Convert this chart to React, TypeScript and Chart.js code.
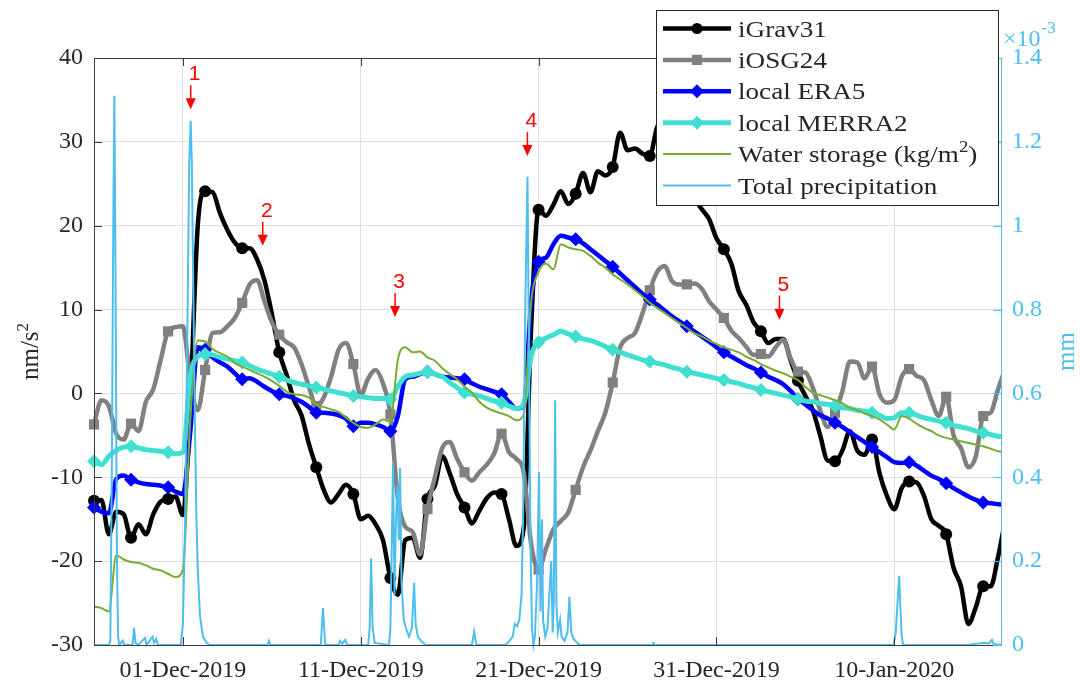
import React, { useEffect, useRef } from 'react';
import { Chart, registerables } from 'chart.js';

Chart.register(...registerables);

// ---------------- data ----------------
const STEP_HOURS = 10; // hours between samples (start 26-Nov-2019 00:00)
const MARKER_EVERY = 5; // one marker every 50 h
const X_MAX_HOURS = 1224;
const TICK_HOURS = [120, 360, 600, 840, 1080];
const TICK_LABELS = ['01-Dec-2019', '11-Dec-2019', '21-Dec-2019', '31-Dec-2019', '10-Jan-2020'];
const LEFT_TICKS = [-30, -20, -10, 0, 10, 20, 30, 40];
const RIGHT_TICKS = [0, 0.2, 0.4, 0.6, 0.8, 1, 1.2, 1.4];

const IGRAV31 = [
  -12.8, -12.7, -16.8, -14.1, -14.4, -17.2, -15.6, -16.8, -14.4, -12.9,
  -12.6, -12.3, -14.5, -1.0, 20.0, 24.1, 24.0, 21.5, 19.5, 18.0,
  17.3, 17.3, 16.0, 13.5, 9.5, 4.9, 2.2, -0.8, -2.6, -6.0,
  -8.8, -11.5, -13.0, -12.0, -10.9, -12.0, -15.0, -14.6, -15.6, -17.5,
  -22.0, -24.0, -17.5, -17.2, -19.6, -12.6, -11.0, -7.5, -9.5, -12.0,
  -13.6, -15.5, -14.0, -12.5, -11.8, -12.0, -15.0, -18.2, -16.0, 8.0,
  21.9, 21.2, 22.5, 24.1, 22.6, 23.8, 26.3, 24.0, 26.5, 26.0,
  27.0, 31.1, 29.0, 29.2, 28.6, 28.3, 31.8, 32.5, 31.0, 29.5,
  27.0, 23.5, 22.0, 20.8, 18.5, 17.2, 15.5, 12.2, 10.6, 8.5,
  7.4, 6.0, 6.5, 6.5, 4.0, 1.5, -0.3, -2.0, -5.0, -8.0,
  -8.1, -6.8, -4.5, -6.8, -7.3, -5.5, -9.5, -12.2, -13.8, -11.3,
  -10.5, -10.6, -12.2, -15.0, -15.8, -16.8, -20.8, -23.0, -27.5, -25.5,
  -23.0, -23.0, -19.5, -15.0,
];

const IOSG24 = [
  -3.7, -0.8, -1.5, -4.8, -5.5, -3.6, -4.5, -1.0, 0.5, 4.0,
  7.4, 7.9, 8.0, 1.5, -2.0, 2.8, 7.2, 7.3, 8.0, 9.0,
  10.8, 13.0, 13.5, 11.0, 8.5, 7.0, 6.1, 5.5, 3.5, 0.8,
  -1.5, -0.5, 2.0, 5.2, 6.0, 3.5, -0.2, 1.8, 2.8, 1.2,
  -2.5, -12.5, -15.9, -16.5, -19.2, -13.8, -10.0, -6.5, -5.8, -7.8,
  -9.4, -10.4, -9.4, -8.5, -7.2, -4.8, -7.0, -7.8, -9.5, -18.0,
  -21.0, -18.5, -16.2, -15.2, -14.2, -11.5, -8.8, -6.8, -4.5, -2.3,
  1.3, 5.5, 6.6, 7.2, 9.5, 12.3, 14.5, 15.2, 13.4, 13.0,
  13.0, 13.1, 12.5, 11.0, 10.0, 9.0, 7.5, 6.6, 5.6, 4.6,
  4.7, 4.4, 5.5, 6.4, 4.2, 2.6, 2.5, 0.7, -2.0, -4.0,
  -2.3, 0.3, 3.8, 3.7, 1.8, 3.2, -0.1, -1.1, -0.8, 2.0,
  2.9, 2.1, 1.6, -0.8, -2.7, -0.4, -5.0, -6.5, -8.8, -7.5,
  -2.7, -2.3, 0.5, 3.0,
];

const ERA5 = [
  -13.6, -14.1, -14.3, -10.2, -9.8, -10.3, -10.6, -10.8, -10.9, -11.0,
  -11.2, -11.7, -12.0, -4.5, 5.5, 5.2, 4.3, 3.7, 3.2, 2.4,
  1.7, 1.8, 1.4, 0.8, 0.3, -0.1, -0.3, -0.6, -1.0, -1.6,
  -2.3, -2.3, -2.4, -2.6, -3.0, -3.9, -3.5, -3.5, -3.7, -4.0,
  -4.5, -2.7, 1.7, 2.0, 2.3, 2.6, 2.3, 2.0, 1.9, 1.8,
  1.7, 1.2, 0.8, 0.5, 0.2, -0.1, -1.0, -1.8, -1.5, 11.0,
  15.7, 16.2, 17.8, 18.8, 18.6, 18.4, 17.9, 17.2, 16.5, 15.8,
  15.1, 14.3, 13.5, 12.7, 11.9, 11.2, 10.6, 9.9, 9.2, 8.6,
  8.0, 7.4, 6.8, 6.2, 5.5, 4.9, 4.4, 3.9, 3.4, 3.0,
  2.5, 2.0, 1.6, 1.1, 0.3, -0.7, -1.3, -2.0, -2.6, -3.0,
  -3.5, -4.0, -4.6, -5.2, -5.8, -6.4, -7.0, -7.6, -8.2, -8.3,
  -8.2, -8.6, -9.2, -9.8, -10.2, -10.7, -11.3, -11.8, -12.3, -12.7,
  -13.0, -13.1, -13.2, -13.3,
];

const MERRA2 = [
  -8.1, -8.5, -7.5, -6.8, -6.4, -6.3, -6.5, -6.7, -6.8, -6.9,
  -7.0, -7.2, -7.0, 2.0, 4.4, 4.7, 4.6, 4.3, 4.1, 3.9,
  3.7, 3.3, 2.9, 2.6, 2.3, 2.0, 1.6, 1.3, 1.1, 0.9,
  0.7, 0.5, 0.3, 0.1, -0.1, -0.3, -0.4, -0.5, -0.6, -0.6,
  -0.7, 0.8, 2.0, 2.2, 2.4, 2.6, 2.3, 2.0, 1.3, 0.7,
  0.1, -0.1, -0.3, -0.6, -0.9, -1.1, -1.5, -1.8, -1.2, 4.5,
  6.1, 6.6, 7.0, 7.4, 7.1, 6.8, 6.5, 6.3, 6.0, 5.6,
  5.2, 4.9, 4.6, 4.3, 4.0, 3.8, 3.6, 3.4, 3.1, 2.9,
  2.6, 2.4, 2.2, 2.0, 1.8, 1.6, 1.4, 1.2, 0.9, 0.7,
  0.4, 0.2, 0.0, -0.2, -0.4, -0.7, -0.9, -1.0, -1.2, -1.3,
  -1.5, -1.7, -1.8, -2.0, -2.1, -2.3, -2.6, -3.0, -2.9, -2.3,
  -2.3, -2.6, -2.9, -3.1, -3.3, -3.5, -3.8, -4.0, -4.2, -4.5,
  -4.7, -4.9, -5.1, -5.2,
];

const WATER_STORAGE = [
  -25.4, -25.6, -26.0, -19.3, -19.8, -20.1, -20.2, -20.5, -20.9, -21.1,
  -21.5, -21.9, -21.0, -3.0, 6.3, 6.2, 5.3, 4.8, 4.4, 3.6,
  3.2, 2.8, 2.4, 2.0, 1.5, 0.9, 0.2, -0.1, -0.2, -0.5,
  -1.3, -1.6, -1.9, -2.2, -2.9, -3.5, -4.0, -4.1, -3.7, -3.1,
  -3.4, 4.0, 5.5, 4.9, 5.0, 4.3, 3.9, 3.0, 2.3, 1.7,
  0.8, 0.1, -1.0, -1.7, -2.1, -2.4, -2.7, -3.2, -2.5, 11.0,
  14.5, 15.5, 14.8, 17.8, 17.4, 17.2, 17.0, 16.4, 15.6, 15.0,
  14.2, 13.6, 13.0, 12.3, 11.6, 10.8, 10.2, 9.6, 9.0, 8.4,
  7.8, 7.2, 6.8, 6.3, 5.9, 5.5, 5.2, 4.9, 4.4, 4.0,
  3.5, 3.1, 2.7, 2.4, 2.0, 1.6, 0.8, 0.1, -0.2, -0.5,
  -0.8, -1.2, -1.7, -2.0, -2.4, -2.7, -3.1, -3.7, -4.3, -2.7,
  -3.0, -3.6, -4.1, -4.5, -5.0, -5.3, -5.5, -5.7, -5.9, -6.1,
  -6.3, -6.6, -6.9, -7.0,
];

// total precipitation, in units of 1e-3 mm
const PRECIP_HOURS = [
  0, 20, 22, 24, 26, 27.5, 29, 31, 32.5, 34, 39, 41,
  52, 54, 56, 60, 69, 71, 79, 81, 84, 86,
  117, 120, 123, 126, 128.5, 130.5, 132, 134, 136, 138, 140, 143, 147, 152, 156,
  234, 236, 238, 306, 309, 312, 330, 332, 335, 339, 342,
  370, 372, 374, 376, 379, 398, 400, 401.5, 403.5, 405.5, 407.5, 409.5, 411.5, 413, 415, 418, 421, 425, 429, 432, 434, 437, 442, 448,
  510, 513, 516, 555, 560, 565, 568, 571, 574, 577, 579, 582, 585, 587, 589, 591, 593,
  595, 598, 600.5, 602.5, 604.5, 606, 609, 612, 614.5, 617, 619, 620.5, 622.3, 624, 626, 629, 631, 635, 639, 641.6, 644, 647, 652, 656,
  753, 755, 757, 1079, 1082, 1085, 1086.6, 1088, 1090, 1092,
  1180, 1190, 1200, 1208, 1211.7, 1214, 1224,
];
const PRECIP_VALUES = [
  0, 0, 0.01, 0.4, 1.0, 1.31, 0.9, 0.2, 0.02, 0, 0.01, 0,
  0, 0.041, 0.005, 0, 0.017, 0, 0.02, 0.005, 0.015, 0,
  0, 0.05, 0.3, 0.75, 1.15, 1.25, 1.15, 0.85, 0.55, 0.32, 0.18, 0.07, 0.02, 0.005, 0,
  0, 0.01, 0, 0, 0.088, 0, 0, 0.01, 0.003, 0.012, 0,
  0, 0.04, 0.207, 0.04, 0.005, 0, 0.04, 0.2, 0.434, 0.12, 0.3, 0.38, 0.25, 0.422, 0.15, 0.06, 0.04, 0.02, 0.04, 0.148, 0.05, 0.02, 0.008, 0,
  0, 0.032, 0, 0, 0.008, 0.02, 0.05, 0.045, 0.06, 0.12, 0.3, 0.8, 1.117, 0.7, 0.25, 0.04, 0,
  0.02, 0.15, 0.413, 0.08, 0.3, 0.06, 0.02, 0.04, 0.12, 0.2, 0.03, 0.1, 0.584, 0.1, 0.03, 0.06, 0.02, 0.01, 0.03, 0.115, 0.03, 0.015, 0.005, 0,
  0, 0.005, 0, 0, 0.03, 0.12, 0.165, 0.1, 0.02, 0,
  0, 0.003, 0.005, 0.004, 0.012, 0.003, 0,
];

// red event annotations: arrow tip in data units
const EVENT_LABELS = ['1', '2', '3', '4', '5'];
const EVENT_HOURS = [130.5, 227.7, 406.3, 584.9, 925];
const EVENT_VALUES = [33.9, 17.6, 9.1, 28.3, 8.8];

// ---------------- style ----------------
const W = 1080;
const H = 684;
const SERIF = '"Liberation Serif", "Times New Roman", serif';
const SANS = '"Liberation Sans", Arial, sans-serif';
const AXIS_COLOR = '#3c3c3c';
const TEXT_COLOR = '#262626';
const GRID_COLOR = '#dedede';
const PRECIP_COLOR = '#4DBEEE';

type Part = { t: string; sup?: boolean };

function drawRich(ctx: CanvasRenderingContext2D, parts: Part[], x: number, y: number, size: number) {
  let cx = x;
  for (const p of parts) {
    if (p.sup) {
      ctx.font = `${Math.round(size * 0.68)}px ${SERIF}`;
      ctx.fillText(p.t, cx, y - size * 0.42);
    } else {
      ctx.font = `${size}px ${SERIF}`;
      ctx.fillText(p.t, cx, y);
    }
    cx += ctx.measureText(p.t).width;
  }
  return cx - x;
}

function richWidth(ctx: CanvasRenderingContext2D, parts: Part[], size: number) {
  let w = 0;
  for (const p of parts) {
    ctx.font = p.sup ? `${Math.round(size * 0.68)}px ${SERIF}` : `${size}px ${SERIF}`;
    w += ctx.measureText(p.t).width;
  }
  return w;
}

function drawMarker(ctx: CanvasRenderingContext2D, style: string, x: number, y: number, r: number, color: string) {
  ctx.fillStyle = color;
  ctx.beginPath();
  if (style === 'circle') {
    ctx.arc(x, y, r, 0, Math.PI * 2);
  } else if (style === 'rect') {
    const s = Math.SQRT1_2 * r;
    ctx.rect(x - s, y - s, 2 * s, 2 * s);
  } else {
    ctx.moveTo(x - r, y);
    ctx.lineTo(x, y - r);
    ctx.lineTo(x + r, y);
    ctx.lineTo(x, y + r);
    ctx.closePath();
  }
  ctx.fill();
}

const LEGEND_ITEMS: { label: Part[]; color: string; width: number; marker?: string; r?: number }[] = [
  { label: [{ t: 'iGrav31' }], color: '#000000', width: 4.5, marker: 'circle', r: 5.5 },
  { label: [{ t: 'iOSG24' }], color: '#808080', width: 4.5, marker: 'rect', r: 7.2 },
  { label: [{ t: 'local ERA5' }], color: '#0000FF', width: 4.5, marker: 'rectRot', r: 7 },
  { label: [{ t: 'local MERRA2' }], color: '#40E0D0', width: 5, marker: 'rectRot', r: 7 },
  { label: [{ t: 'Water storage (kg/m' }, { t: '2', sup: true }, { t: ')' }], color: '#77AC30', width: 2 },
  { label: [{ t: 'Total precipitation' }], color: PRECIP_COLOR, width: 2 },
];

const decorPlugin = {
  id: 'decor',
  afterDatasetsDraw(chart: any) {
    const { ctx, chartArea: a, scales } = chart;
    ctx.save();
    // tick marks (inward) and frame
    ctx.strokeStyle = AXIS_COLOR;
    ctx.lineWidth = 1;
    ctx.beginPath();
    for (const v of LEFT_TICKS) {
      const y = Math.round(scales.y.getPixelForValue(v)) + 0.5;
      ctx.moveTo(a.left, y);
      ctx.lineTo(a.left + 8, y);
    }
    for (const h of TICK_HOURS) {
      const x = Math.round(scales.x.getPixelForValue(h)) + 0.5;
      ctx.moveTo(x, a.bottom);
      ctx.lineTo(x, a.bottom - 8);
      ctx.moveTo(x, a.top);
      ctx.lineTo(x, a.top + 8);
    }
    ctx.moveTo(a.left + 0.5, a.top + 0.5);
    ctx.lineTo(a.left + 0.5, a.bottom + 0.5);
    ctx.lineTo(a.right, a.bottom + 0.5);
    ctx.moveTo(a.left + 0.5, a.top + 0.5);
    ctx.lineTo(a.right, a.top + 0.5);
    ctx.stroke();
    ctx.strokeStyle = PRECIP_COLOR;
    ctx.beginPath();
    for (const v of RIGHT_TICKS) {
      const y = Math.round(scales.y2.getPixelForValue(v)) + 0.5;
      ctx.moveTo(a.right, y);
      ctx.lineTo(a.right - 8, y);
    }
    ctx.moveTo(a.right + 0.5, a.top);
    ctx.lineTo(a.right + 0.5, a.bottom + 1);
    ctx.stroke();
    ctx.restore();
  },
  afterDraw(chart: any) {
    const { ctx, chartArea: a, scales } = chart;
    ctx.save();

    // axis titles
    ctx.fillStyle = TEXT_COLOR;
    ctx.textBaseline = 'alphabetic';
    const leftTitle: Part[] = [{ t: 'nm/s' }, { t: '2', sup: true }];
    const lw = richWidth(ctx, leftTitle, 25);
    ctx.save();
    ctx.translate(38, (a.top + a.bottom) / 2);
    ctx.rotate(-Math.PI / 2);
    drawRich(ctx, leftTitle, -lw / 2, 0, 25);
    ctx.restore();

    ctx.fillStyle = PRECIP_COLOR;
    ctx.save();
    ctx.font = `25px ${SERIF}`;
    const mw = ctx.measureText('mm').width;
    ctx.translate(1074, (a.top + a.bottom) / 2);
    ctx.rotate(-Math.PI / 2);
    ctx.fillText('mm', -mw / 2, 0);
    ctx.restore();

    // x10^-3 exponent
    ctx.font = `24px ${SERIF}`;
    ctx.fillText('\u00d710', a.right + 2, 46);
    const ew = ctx.measureText('\u00d710').width;
    ctx.font = `17px ${SERIF}`;
    ctx.fillText('-3', a.right + 3 + ew, 33);

    // red event arrows
    ctx.fillStyle = '#ff0000';
    ctx.strokeStyle = '#ff0000';
    ctx.lineWidth = 1.5;
    ctx.font = `21px ${SANS}`;
    ctx.textAlign = 'center';
    EVENT_LABELS.forEach((lab, i) => {
      const x = scales.x.getPixelForValue(EVENT_HOURS[i]);
      const y = scales.y.getPixelForValue(EVENT_VALUES[i]);
      const top = y - 24;
      ctx.beginPath();
      ctx.moveTo(x, top);
      ctx.lineTo(x, y - 8);
      ctx.stroke();
      ctx.beginPath();
      ctx.moveTo(x - 5, y - 11);
      ctx.lineTo(x + 5, y - 11);
      ctx.lineTo(x, y);
      ctx.closePath();
      ctx.fill();
      ctx.fillText(lab, x + 4, top - 5);
    });
    ctx.textAlign = 'left';

    // legend
    const L = { x: 656, y: 10, w: 342, h: 195, row0: 28.5, rowH: 31.4, l0: 663, l1: 731, tx: 738 };
    ctx.fillStyle = '#ffffff';
    ctx.fillRect(L.x, L.y, L.w, L.h);
    ctx.strokeStyle = '#262626';
    ctx.lineWidth = 1;
    ctx.strokeRect(L.x + 0.5, L.y + 0.5, L.w, L.h);
    LEGEND_ITEMS.forEach((it, i) => {
      const cy = L.row0 + i * L.rowH;
      ctx.strokeStyle = it.color;
      ctx.lineWidth = it.width;
      ctx.beginPath();
      ctx.moveTo(L.l0, cy);
      ctx.lineTo(L.l1, cy);
      ctx.stroke();
      if (it.marker) drawMarker(ctx, it.marker, (L.l0 + L.l1) / 2, cy, it.r || 6, it.color);
      ctx.fillStyle = TEXT_COLOR;
      ctx.save();
      ctx.translate(L.tx, cy + 8);
      ctx.scale(1.18, 1);
      drawRich(ctx, it.label, 0, 0, 23);
      ctx.restore();
    });

    ctx.restore();
  },
};

function toPoints(values: number[]) {
  return values.map((v, i) => ({ x: i * STEP_HOURS, y: v }));
}

const markerRadius = (r: number) => (c: any) => (c.dataIndex % MARKER_EVERY === 0 ? r : 0);

export default function App() {
  const ref = useRef<HTMLCanvasElement>(null);

  useEffect(() => {
    const canvas = ref.current;
    if (!canvas) return;
    const clip = { left: 12, right: 0, top: 12, bottom: 12 };
    const gravity = (label: string, values: number[], color: string, width: number, style: string, r: number, order: number) => ({
      label,
      data: toPoints(values),
      yAxisID: 'y',
      borderColor: color,
      backgroundColor: color,
      borderWidth: width,
      pointStyle: style,
      pointRadius: markerRadius(r),
      pointHoverRadius: 0,
      pointBorderWidth: 0,
      pointBackgroundColor: color,
      cubicInterpolationMode: 'monotone',
      order,
      clip,
    });
    const datasets: any[] = [
      gravity('iGrav31', IGRAV31, '#000000', 4.5, 'circle', 6, 5),
      gravity('iOSG24', IOSG24, '#808080', 4.5, 'rect', 7.2, 4),
      gravity('local ERA5', ERA5, '#0000FF', 4.5, 'rectRot', 7, 3),
      gravity('local MERRA2', MERRA2, '#40E0D0', 5, 'rectRot', 7, 2),
      {
        label: 'Water storage (kg/m²)',
        data: toPoints(WATER_STORAGE),
        yAxisID: 'y',
        borderColor: '#77AC30',
        borderWidth: 2,
        pointRadius: 0,
        pointHoverRadius: 0,
        cubicInterpolationMode: 'monotone',
        order: 1,
        clip,
      },
      {
        label: 'Total precipitation',
        data: PRECIP_HOURS.map((h, i) => ({ x: h, y: PRECIP_VALUES[i] })),
        yAxisID: 'y2',
        borderColor: PRECIP_COLOR,
        borderWidth: 2,
        pointRadius: 0,
        pointHoverRadius: 0,
        tension: 0,
        order: 0,
        clip,
      },
    ];

    const tickFont = { family: SERIF, size: 24 };
    const chart = new Chart(canvas, {
      type: 'line',
      data: { datasets },
      options: {
        responsive: false,
        devicePixelRatio: 1,
        animation: false,
        events: [],
        layout: { padding: { top: 58, left: 0, right: 0, bottom: 0 } },
        plugins: { legend: { display: false }, tooltip: { enabled: false } },
        scales: {
          x: {
            type: 'linear',
            position: 'bottom',
            min: 0,
            max: X_MAX_HOURS,
            afterBuildTicks: (s: any) => {
              s.ticks = TICK_HOURS.map((v) => ({ value: v }));
            },
            afterFit: (s: any) => {
              s.height = H - 645;
            },
            ticks: {
              autoSkip: false,
              maxRotation: 0,
              minRotation: 0,
              padding: 11,
              color: TEXT_COLOR,
              font: tickFont,
              callback: (v: any) => {
                const k = TICK_HOURS.indexOf(Number(v));
                return k >= 0 ? TICK_LABELS[k] : '';
              },
            },
            grid: { color: GRID_COLOR, drawTicks: false, lineWidth: 1 },
            border: { display: false },
          },
          y: {
            type: 'linear',
            position: 'left',
            min: -30,
            max: 40,
            afterBuildTicks: (s: any) => {
              s.ticks = LEFT_TICKS.map((v) => ({ value: v }));
            },
            afterFit: (s: any) => {
              s.width = 94;
            },
            ticks: { padding: 11, color: TEXT_COLOR, font: tickFont, callback: (v: any) => String(v) },
            grid: { color: GRID_COLOR, drawTicks: false, lineWidth: 1 },
            border: { display: false },
          },
          y2: {
            type: 'linear',
            position: 'right',
            min: 0,
            max: 1.4,
            afterBuildTicks: (s: any) => {
              s.ticks = RIGHT_TICKS.map((v) => ({ value: v }));
            },
            afterFit: (s: any) => {
              s.width = W - 1001;
            },
            ticks: {
              padding: 11,
              color: PRECIP_COLOR,
              font: tickFont,
              callback: (v: any) => String(+Number(v).toFixed(1)),
            },
            grid: { display: false, drawTicks: false },
            border: { display: false },
          },
        },
      } as any,
      plugins: [decorPlugin],
    });
    return () => chart.destroy();
  }, []);

  return (
    <div style={{ position: 'fixed', left: 0, top: 0, width: W, height: H, background: '#ffffff' }}>
      <canvas ref={ref} width={W} height={H} style={{ width: W, height: H, display: 'block' }} />
    </div>
  );
}
